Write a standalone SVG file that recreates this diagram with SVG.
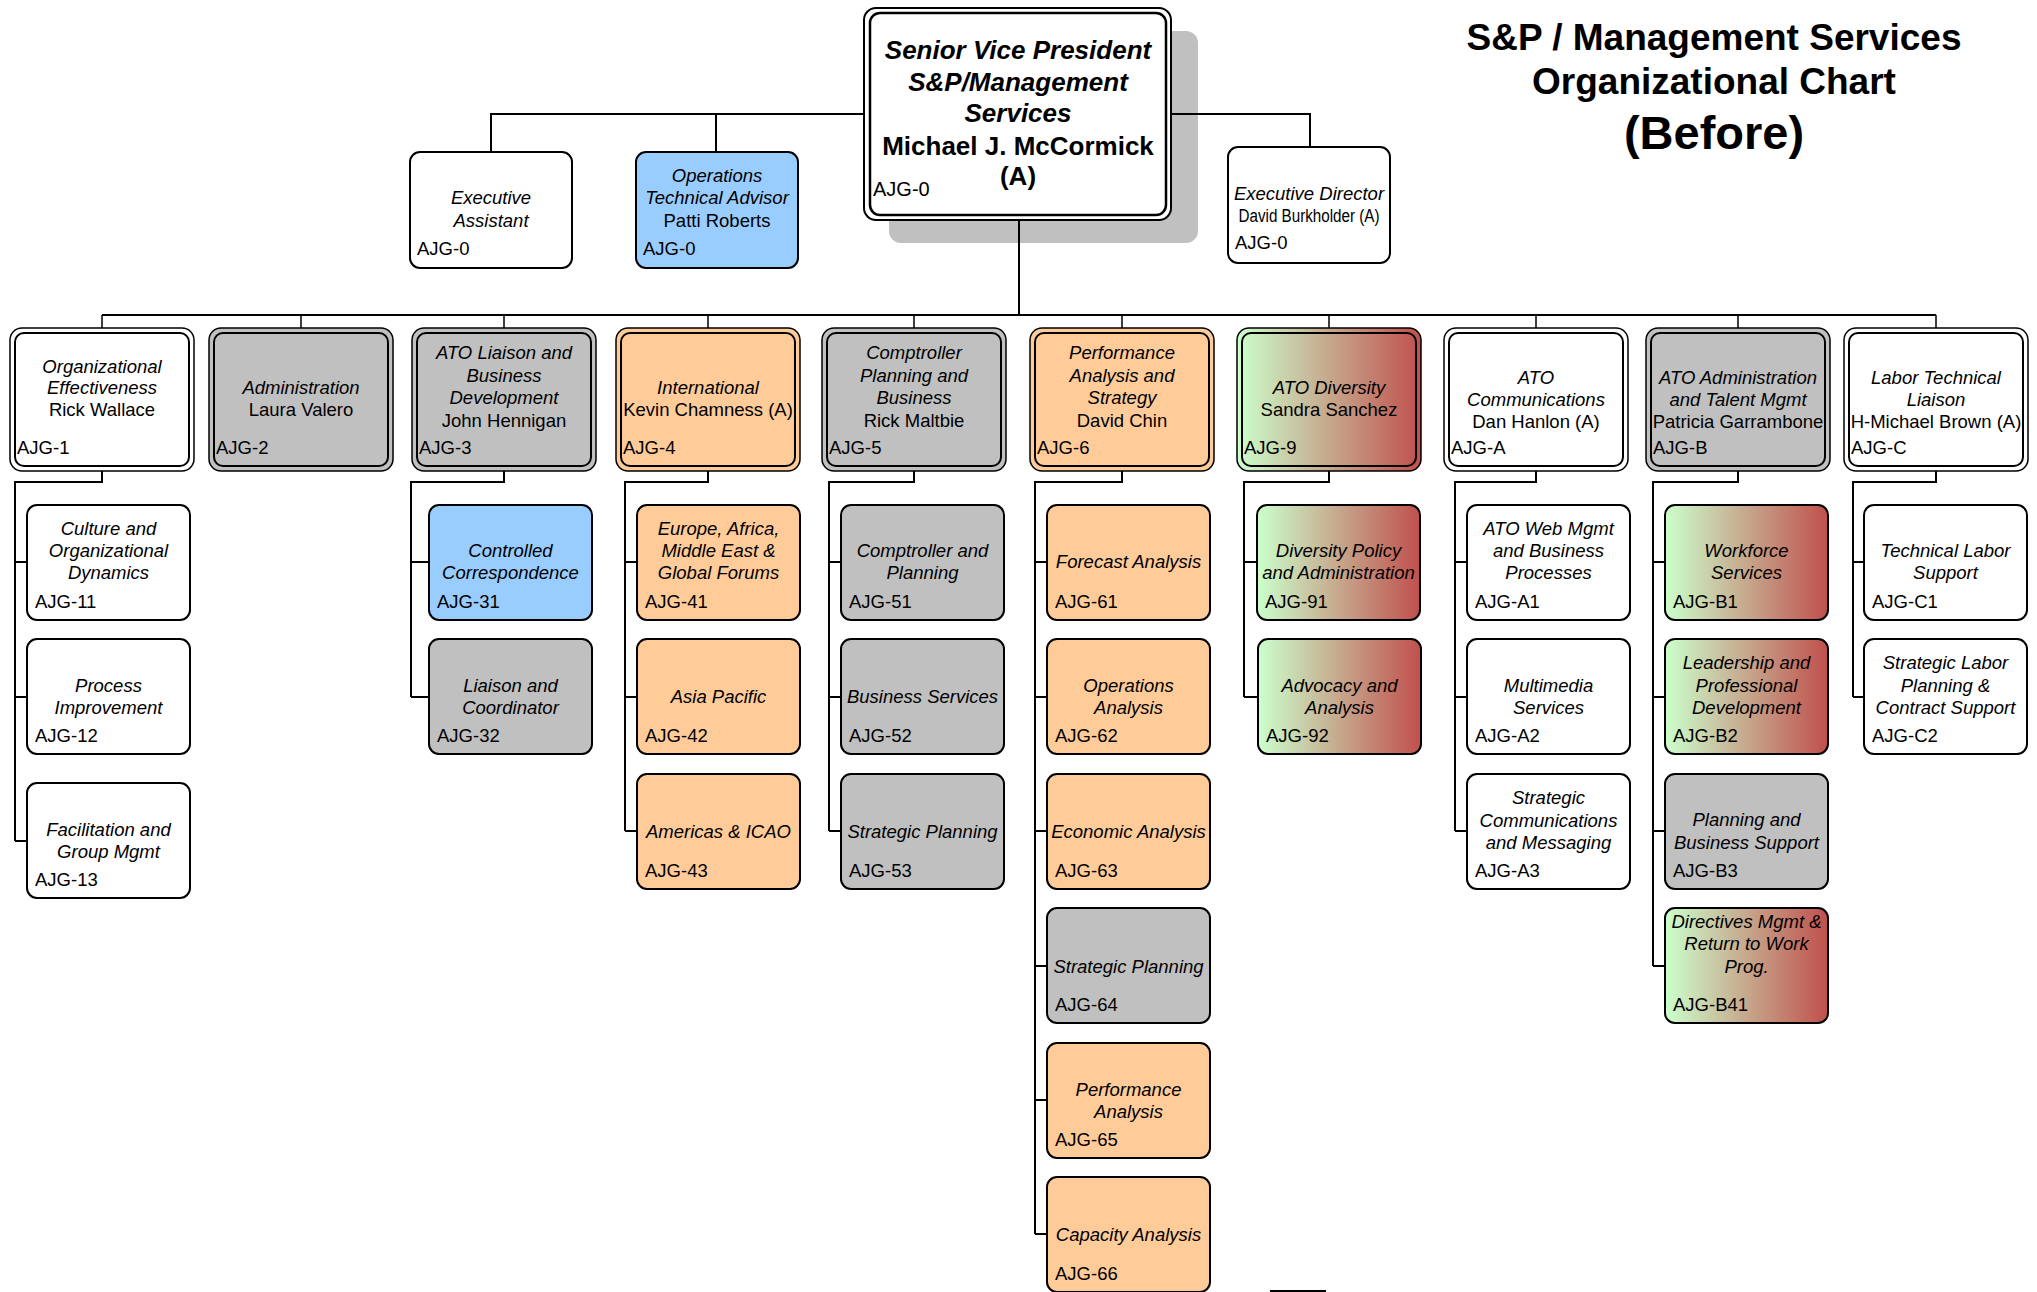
<svg xmlns="http://www.w3.org/2000/svg" width="2037" height="1292" viewBox="0 0 2037 1292">
<defs>
<linearGradient id="g" x1="0" y1="0" x2="1" y2="0">
<stop offset="0" stop-color="#CCFFCC"/>
<stop offset="1" stop-color="#C0504D"/>
</linearGradient>
<style>
text{font-family:'Liberation Sans',Arial,sans-serif;font-size:18.5px;fill:#000;text-anchor:middle}
.i{font-style:italic}
.c{text-anchor:start}
.conn{stroke:#000;stroke-width:2;fill:none}
.drop{stroke:#000;stroke-width:1.5;fill:none}
.o{stroke:#000;stroke-width:1.5}
.in{fill:none;stroke:#000;stroke-width:2}
.b{stroke:#000;stroke-width:2}
.w{fill:#fff}.gr{fill:#C0C0C0}.or{fill:#FFCC99}.bl{fill:#99CCFF}.gd{fill:url(#g)}
.title{font-weight:bold;font-size:37px}
.svp{font-weight:bold;font-size:26px}
</style>
</defs>
<rect x="889" y="31" width="309" height="212" rx="12" fill="#C0C0C0"/>
<g id="connectors">
<path class="conn" d="M491,152V114H1310V147M716,114V152M1019,220V315M102,315H1936"/>
<path class="drop" d="M102,315V328M301,315V328M504,315V328M708,315V328M914,315V328M1122,315V328M1329,315V328M1536,315V328M1738,315V328M1936,315V328"/>
<path class="conn" d="M102,471V482H15V841M15,562H27M15,697H27M15,841H27"/>
<path class="conn" d="M504,471V482H411V697M411,562H429M411,697H429"/>
<path class="conn" d="M708,471V482H625V831M625,562H637M625,697H637M625,831H637"/>
<path class="conn" d="M914,471V482H829V831M829,562H841M829,697H841M829,831H841"/>
<path class="conn" d="M1122,471V482H1035V1234M1035,562H1047M1035,697H1047M1035,831H1047M1035,966H1047M1035,1100H1047M1035,1234H1047"/>
<path class="conn" d="M1329,471V482H1244V697M1244,562H1257M1244,697H1257"/>
<path class="conn" d="M1536,471V482H1455V831M1455,562H1467M1455,697H1467M1455,831H1467"/>
<path class="conn" d="M1738,471V482H1653V966M1653,562H1665M1653,697H1665M1653,831H1665M1653,966H1665"/>
<path class="conn" d="M1936,471V482H1853V697M1853,562H1864M1853,697H1864"/>
</g>
<line x1="1270" y1="1291" x2="1326" y2="1291" stroke="#000" stroke-width="2"/>
<g id="title">
<text class="title" x="1714" y="50">S&amp;P / Management Services</text>
<text class="title" x="1714" y="94">Organizational Chart</text>
<text class="title" x="1714" y="149" style="font-size:47px">(Before)</text>
</g>
<g id="svp">
<rect class="w" x="864" y="8" width="307" height="212" rx="12" stroke="#000" stroke-width="2"/>
<rect class="in" x="870" y="13" width="296" height="202" rx="10" style="stroke-width:2.5"/>
<text class="svp i" x="1018" y="59">Senior Vice President</text>
<text class="svp i" x="1018" y="91">S&amp;P/Management</text>
<text class="svp i" x="1018" y="122">Services</text>
<text class="svp" x="1018" y="155">Michael J. McCormick</text>
<text class="svp" x="1018" y="185">(A)</text>
<text class="c" x="873" y="196" style="font-size:20px">AJG-0</text>
</g>
<g id="exec-assistant">
<rect class="w b" x="410" y="152" width="162" height="116" rx="10"/>
<text class="i" x="491" y="204">Executive</text>
<text class="i" x="491" y="227">Assistant</text>
<text class="c" x="417" y="255">AJG-0</text>
</g>
<g id="ops-tech-advisor">
<rect class="bl b" x="636" y="152" width="162" height="116" rx="10"/>
<text class="i" x="717" y="182">Operations</text>
<text class="i" x="717" y="204">Technical Advisor</text>
<text x="717" y="227">Patti Roberts</text>
<text class="c" x="643" y="255">AJG-0</text>
</g>
<g id="exec-director">
<rect class="w b" x="1228" y="147" width="162" height="116" rx="10"/>
<text class="i" x="1309" y="200">Executive Director</text>
<text x="1309" y="222" style="font-size:18px" textLength="141" lengthAdjust="spacingAndGlyphs">David Burkholder (A)</text>
<text class="c" x="1235" y="249">AJG-0</text>
</g>
<g id="AJG-1">
<rect class="w o" x="10" y="328" width="184" height="143" rx="12"/>
<rect class="in" x="15" y="333" width="174" height="133" rx="9"/>
<text class="i" x="102" y="373">Organizational</text>
<text class="i" x="102" y="394">Effectiveness</text>
<text x="102" y="416">Rick Wallace</text>
<text class="c" x="17" y="454">AJG-1</text>
</g>
<g id="AJG-2">
<rect class="gr o" x="209" y="328" width="184" height="143" rx="12"/>
<rect class="in" x="214" y="333" width="174" height="133" rx="9"/>
<text class="i" x="301" y="394">Administration</text>
<text x="301" y="416">Laura Valero</text>
<text class="c" x="216" y="454">AJG-2</text>
</g>
<g id="AJG-3">
<rect class="gr o" x="412" y="328" width="184" height="143" rx="12"/>
<rect class="in" x="417" y="333" width="174" height="133" rx="9"/>
<text class="i" x="504" y="359">ATO Liaison and</text>
<text class="i" x="504" y="382">Business</text>
<text class="i" x="504" y="404">Development</text>
<text x="504" y="427">John Hennigan</text>
<text class="c" x="419" y="454">AJG-3</text>
</g>
<g id="AJG-4">
<rect class="or o" x="616" y="328" width="184" height="143" rx="12"/>
<rect class="in" x="621" y="333" width="174" height="133" rx="9"/>
<text class="i" x="708" y="394">International</text>
<text x="708" y="416">Kevin Chamness (A)</text>
<text class="c" x="623" y="454">AJG-4</text>
</g>
<g id="AJG-5">
<rect class="gr o" x="822" y="328" width="184" height="143" rx="12"/>
<rect class="in" x="827" y="333" width="174" height="133" rx="9"/>
<text class="i" x="914" y="359">Comptroller</text>
<text class="i" x="914" y="382">Planning and</text>
<text class="i" x="914" y="404">Business</text>
<text x="914" y="427">Rick Maltbie</text>
<text class="c" x="829" y="454">AJG-5</text>
</g>
<g id="AJG-6">
<rect class="or o" x="1030" y="328" width="184" height="143" rx="12"/>
<rect class="in" x="1035" y="333" width="174" height="133" rx="9"/>
<text class="i" x="1122" y="359">Performance</text>
<text class="i" x="1122" y="382">Analysis and</text>
<text class="i" x="1122" y="404">Strategy</text>
<text x="1122" y="427">David Chin</text>
<text class="c" x="1037" y="454">AJG-6</text>
</g>
<g id="AJG-9">
<rect class="gd o" x="1237" y="328" width="184" height="143" rx="12"/>
<rect class="in" x="1242" y="333" width="174" height="133" rx="9"/>
<text class="i" x="1329" y="394">ATO Diversity</text>
<text x="1329" y="416">Sandra Sanchez</text>
<text class="c" x="1244" y="454">AJG-9</text>
</g>
<g id="AJG-A">
<rect class="w o" x="1444" y="328" width="184" height="143" rx="12"/>
<rect class="in" x="1449" y="333" width="174" height="133" rx="9"/>
<text class="i" x="1536" y="384">ATO</text>
<text class="i" x="1536" y="406">Communications</text>
<text x="1536" y="428">Dan Hanlon (A)</text>
<text class="c" x="1451" y="454">AJG-A</text>
</g>
<g id="AJG-B">
<rect class="gr o" x="1646" y="328" width="184" height="143" rx="12"/>
<rect class="in" x="1651" y="333" width="174" height="133" rx="9"/>
<text class="i" x="1738" y="384">ATO Administration</text>
<text class="i" x="1738" y="406">and Talent Mgmt</text>
<text x="1738" y="428">Patricia Garrambone</text>
<text class="c" x="1653" y="454">AJG-B</text>
</g>
<g id="AJG-C">
<rect class="w o" x="1844" y="328" width="184" height="143" rx="12"/>
<rect class="in" x="1849" y="333" width="174" height="133" rx="9"/>
<text class="i" x="1936" y="384">Labor Technical</text>
<text class="i" x="1936" y="406">Liaison</text>
<text x="1936" y="428">H-Michael Brown (A)</text>
<text class="c" x="1851" y="454">AJG-C</text>
</g>
<g id="AJG-11"><rect class="w b" x="27" y="505" width="163" height="115" rx="10"/>
<text class="i" x="108.5" y="535">Culture and</text><text class="i" x="108.5" y="557">Organizational</text><text class="i" x="108.5" y="579">Dynamics</text><text class="c" x="35" y="608">AJG-11</text></g>
<g id="AJG-12"><rect class="w b" x="27" y="639" width="163" height="115" rx="10"/>
<text class="i" x="108.5" y="692">Process</text><text class="i" x="108.5" y="714">Improvement</text><text class="c" x="35" y="742">AJG-12</text></g>
<g id="AJG-13"><rect class="w b" x="27" y="783" width="163" height="115" rx="10"/>
<text class="i" x="108.5" y="836">Facilitation and</text><text class="i" x="108.5" y="858">Group Mgmt</text><text class="c" x="35" y="886">AJG-13</text></g>
<g id="AJG-31"><rect class="bl b" x="429" y="505" width="163" height="115" rx="10"/>
<text class="i" x="510.5" y="557">Controlled</text><text class="i" x="510.5" y="579">Correspondence</text><text class="c" x="437" y="608">AJG-31</text></g>
<g id="AJG-32"><rect class="gr b" x="429" y="639" width="163" height="115" rx="10"/>
<text class="i" x="510.5" y="692">Liaison and</text><text class="i" x="510.5" y="714">Coordinator</text><text class="c" x="437" y="742">AJG-32</text></g>
<g id="AJG-41"><rect class="or b" x="637" y="505" width="163" height="115" rx="10"/>
<text class="i" x="718.5" y="535">Europe, Africa,</text><text class="i" x="718.5" y="557">Middle East &amp;</text><text class="i" x="718.5" y="579">Global Forums</text><text class="c" x="645" y="608">AJG-41</text></g>
<g id="AJG-42"><rect class="or b" x="637" y="639" width="163" height="115" rx="10"/>
<text class="i" x="718.5" y="703">Asia Pacific</text><text class="c" x="645" y="742">AJG-42</text></g>
<g id="AJG-43"><rect class="or b" x="637" y="774" width="163" height="115" rx="10"/>
<text class="i" x="718.5" y="838">Americas &amp; ICAO</text><text class="c" x="645" y="877">AJG-43</text></g>
<g id="AJG-51"><rect class="gr b" x="841" y="505" width="163" height="115" rx="10"/>
<text class="i" x="922.5" y="557">Comptroller and</text><text class="i" x="922.5" y="579">Planning</text><text class="c" x="849" y="608">AJG-51</text></g>
<g id="AJG-52"><rect class="gr b" x="841" y="639" width="163" height="115" rx="10"/>
<text class="i" x="922.5" y="703">Business Services</text><text class="c" x="849" y="742">AJG-52</text></g>
<g id="AJG-53"><rect class="gr b" x="841" y="774" width="163" height="115" rx="10"/>
<text class="i" x="922.5" y="838">Strategic Planning</text><text class="c" x="849" y="877">AJG-53</text></g>
<g id="AJG-61"><rect class="or b" x="1047" y="505" width="163" height="115" rx="10"/>
<text class="i" x="1128.5" y="568">Forecast Analysis</text><text class="c" x="1055" y="608">AJG-61</text></g>
<g id="AJG-62"><rect class="or b" x="1047" y="639" width="163" height="115" rx="10"/>
<text class="i" x="1128.5" y="692">Operations</text><text class="i" x="1128.5" y="714">Analysis</text><text class="c" x="1055" y="742">AJG-62</text></g>
<g id="AJG-63"><rect class="or b" x="1047" y="774" width="163" height="115" rx="10"/>
<text class="i" x="1128.5" y="838">Economic Analysis</text><text class="c" x="1055" y="877">AJG-63</text></g>
<g id="AJG-64"><rect class="gr b" x="1047" y="908" width="163" height="115" rx="10"/>
<text class="i" x="1128.5" y="973">Strategic Planning</text><text class="c" x="1055" y="1011">AJG-64</text></g>
<g id="AJG-65"><rect class="or b" x="1047" y="1043" width="163" height="115" rx="10"/>
<text class="i" x="1128.5" y="1096">Performance</text><text class="i" x="1128.5" y="1118">Analysis</text><text class="c" x="1055" y="1146">AJG-65</text></g>
<g id="AJG-66"><rect class="or b" x="1047" y="1177" width="163" height="115" rx="10"/>
<text class="i" x="1128.5" y="1241">Capacity Analysis</text><text class="c" x="1055" y="1280">AJG-66</text></g>
<g id="AJG-91"><rect class="gd b" x="1257" y="505" width="163" height="115" rx="10"/>
<text class="i" x="1338.5" y="557">Diversity Policy</text><text class="i" x="1338.5" y="579">and Administration</text><text class="c" x="1265" y="608">AJG-91</text></g>
<g id="AJG-92"><rect class="gd b" x="1258" y="639" width="163" height="115" rx="10"/>
<text class="i" x="1339.5" y="692">Advocacy and</text><text class="i" x="1339.5" y="714">Analysis</text><text class="c" x="1266" y="742">AJG-92</text></g>
<g id="AJG-A1"><rect class="w b" x="1467" y="505" width="163" height="115" rx="10"/>
<text class="i" x="1548.5" y="535">ATO Web Mgmt</text><text class="i" x="1548.5" y="557">and Business</text><text class="i" x="1548.5" y="579">Processes</text><text class="c" x="1475" y="608">AJG-A1</text></g>
<g id="AJG-A2"><rect class="w b" x="1467" y="639" width="163" height="115" rx="10"/>
<text class="i" x="1548.5" y="692">Multimedia</text><text class="i" x="1548.5" y="714">Services</text><text class="c" x="1475" y="742">AJG-A2</text></g>
<g id="AJG-A3"><rect class="w b" x="1467" y="774" width="163" height="115" rx="10"/>
<text class="i" x="1548.5" y="804">Strategic</text><text class="i" x="1548.5" y="827">Communications</text><text class="i" x="1548.5" y="849">and Messaging</text><text class="c" x="1475" y="877">AJG-A3</text></g>
<g id="AJG-B1"><rect class="gd b" x="1665" y="505" width="163" height="115" rx="10"/>
<text class="i" x="1746.5" y="557">Workforce</text><text class="i" x="1746.5" y="579">Services</text><text class="c" x="1673" y="608">AJG-B1</text></g>
<g id="AJG-B2"><rect class="gd b" x="1665" y="639" width="163" height="115" rx="10"/>
<text class="i" x="1746.5" y="669">Leadership and</text><text class="i" x="1746.5" y="692">Professional</text><text class="i" x="1746.5" y="714">Development</text><text class="c" x="1673" y="742">AJG-B2</text></g>
<g id="AJG-B3"><rect class="gr b" x="1665" y="774" width="163" height="115" rx="10"/>
<text class="i" x="1746.5" y="826">Planning and</text><text class="i" x="1746.5" y="849">Business Support</text><text class="c" x="1673" y="877">AJG-B3</text></g>
<g id="AJG-B41"><rect class="gd b" x="1665" y="908" width="163" height="115" rx="10"/>
<text class="i" x="1746.5" y="928">Directives Mgmt &amp;</text><text class="i" x="1746.5" y="950">Return to Work</text><text class="i" x="1746.5" y="973">Prog.</text><text class="c" x="1673" y="1011">AJG-B41</text></g>
<g id="AJG-C1"><rect class="w b" x="1864" y="505" width="163" height="115" rx="10"/>
<text class="i" x="1945.5" y="557">Technical Labor</text><text class="i" x="1945.5" y="579">Support</text><text class="c" x="1872" y="608">AJG-C1</text></g>
<g id="AJG-C2"><rect class="w b" x="1864" y="639" width="163" height="115" rx="10"/>
<text class="i" x="1945.5" y="669">Strategic Labor</text><text class="i" x="1945.5" y="692">Planning &amp;</text><text class="i" x="1945.5" y="714">Contract Support</text><text class="c" x="1872" y="742">AJG-C2</text></g>
</svg>
